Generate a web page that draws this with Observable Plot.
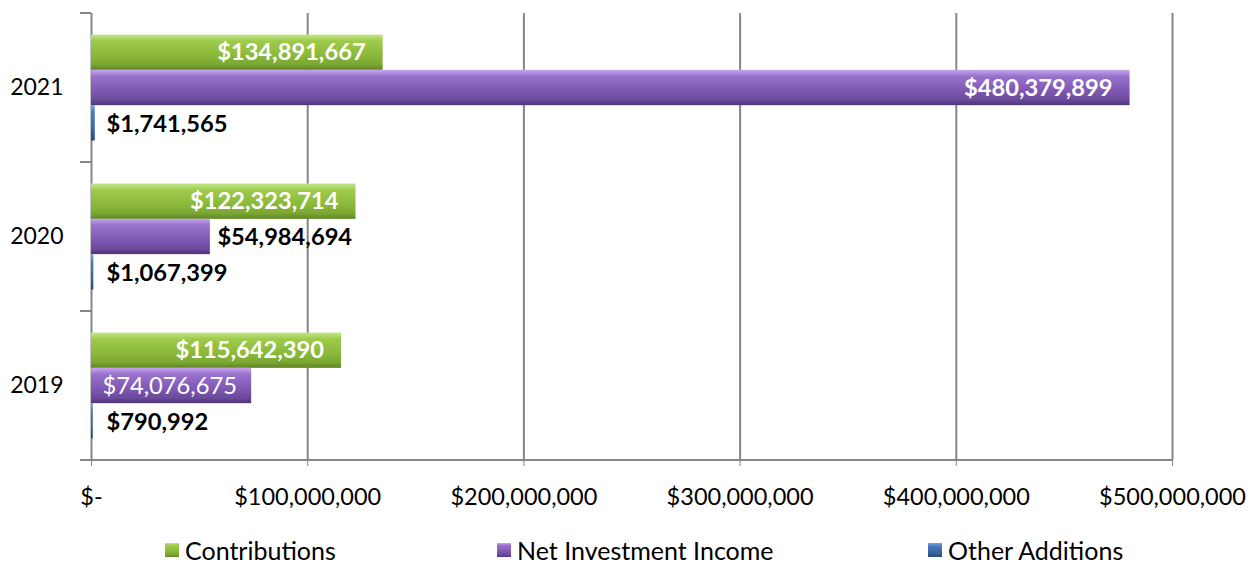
<!DOCTYPE html>
<html><head><meta charset="utf-8">
<script src="https://cdn.jsdelivr.net/npm/d3@7"></script>
<script src="https://cdn.jsdelivr.net/npm/@observablehq/plot@0.6"></script>
<style>
body{margin:0;background:#fff;font-family:Lato,"Open Sans",sans-serif;overflow:hidden;}
#legend{position:relative;height:35px;font-size:25px;color:#000;}
.item{position:absolute;top:5px;height:30px;line-height:30px;display:flex;align-items:center;white-space:nowrap;}
</style></head>
<body>
<svg width="0" height="0" style="position:absolute">
  <defs>
    <linearGradient id="gGreen" x1="0" y1="0" x2="0" y2="1">
      <stop offset="0" stop-color="#c4e68a"/>
      <stop offset="0.18" stop-color="#9fcb4c"/>
      <stop offset="0.6" stop-color="#8ab83a"/>
      <stop offset="0.85" stop-color="#7aa632"/>
      <stop offset="1" stop-color="#5e8424"/>
    </linearGradient>
    <linearGradient id="gPurple" x1="0" y1="0" x2="0" y2="1">
      <stop offset="0" stop-color="#c7a6ef"/>
      <stop offset="0.18" stop-color="#9a72cc"/>
      <stop offset="0.6" stop-color="#7e57b2"/>
      <stop offset="0.85" stop-color="#6c4a9c"/>
      <stop offset="1" stop-color="#4f3476"/>
    </linearGradient>
    <linearGradient id="gBlue" x1="0" y1="0" x2="0" y2="1">
      <stop offset="0" stop-color="#7aa8df"/>
      <stop offset="0.2" stop-color="#4a7cc0"/>
      <stop offset="0.7" stop-color="#35649f"/>
      <stop offset="1" stop-color="#234a7c"/>
    </linearGradient>
  </defs>
</svg>
<div id="chart"></div>
<div id="legend"></div>
<script>
const years = ["2021", "2020", "2019"];
const seriesNames = ["Contributions", "Net Investment Income", "Other Additions"];
const contributions = [134891667, 122323714, 115642390];
const netInvestmentIncome = [480379899, 54984694, 74076675];
const otherAdditions = [1741565, 1067399, 790992];
const xTicks = [0, 100000000, 200000000, 300000000, 400000000, 500000000];

const seriesValues = [contributions, netInvestmentIncome, otherAdditions];
const fills = ["url(#gGreen)", "url(#gPurple)", "url(#gBlue)"];
const rows = [];
years.forEach((yr, i) => seriesNames.forEach((s, j) => rows.push({year: yr, series: s, value: seriesValues[j][i]})));

const money = v => "$" + d3.format(",")(v);

// label placement, the way the original chart placed its data labels
const isOther = d => d.series === "Other Additions";
const insideEnd = rows.filter(d => !isOther(d) && d.value >= 100000000);
const outsideEnd = rows.filter(d => !isOther(d) && d.value < 60000000);
const insideBase = rows.filter(d => !isOther(d) && d.value >= 60000000 && d.value < 100000000);
const otherLabels = rows.filter(isOther);

const labelFont = 23.7;
const chart = Plot.plot({
  width: 1256, height: 530,
  marginLeft: 91, marginRight: 84, marginTop: 12, marginBottom: 70,
  style: {fontFamily: "Lato, 'Open Sans', sans-serif", fontSize: "23px", color: "#000", background: "transparent", overflow: "visible"},
  x: {domain: [0, 500000000]},
  fy: {domain: years, padding: 0, label: null},
  y: {domain: seriesNames, paddingInner: 0, paddingOuter: 0.61, round: false, axis: null},
  marks: [
    Plot.ruleX(xTicks, {stroke: "#868686", strokeWidth: 2}),
    ...seriesNames.map((s, j) => Plot.barX(rows.filter(d => d.series === s), {
      fy: "year", y: "series", x: "value", fill: fills[j]
    })),
    Plot.text(insideEnd, {fy: "year", y: "series", x: "value", text: d => money(d.value), textAnchor: "end", dx: -17.5, fill: "white", fontWeight: "bold", fontSize: labelFont}),
    Plot.text(outsideEnd, {fy: "year", y: "series", x: "value", text: d => money(d.value), textAnchor: "start", dx: 7, fill: "#000", fontWeight: "bold", fontSize: labelFont}),
    Plot.text(insideBase, {fy: "year", y: "series", x: 0, text: d => money(d.value), textAnchor: "start", dx: 11, fill: "white", fontWeight: "normal", fontSize: labelFont}),
    Plot.text(otherLabels, {fy: "year", y: "series", x: 0, text: d => money(d.value), textAnchor: "start", dx: 15, dy: 1, fill: "#000", fontWeight: "bold", fontSize: labelFont}),
    Plot.axisX(xTicks, {anchor: "bottom", tickSize: 6, tickPadding: 22, stroke: "#868686", fill: "#000", fontSize: 23.5,
      tickFormat: d => d === 0 ? "$-" : money(d), label: null}),
    Plot.axisFy({anchor: "left", tickSize: 0, tickPadding: 28, fontSize: 23, fill: "#000", label: null})
  ]
});
document.getElementById("chart").append(chart);

// axis line and category boundary ticks, placed with the chart's own scales
const svg = d3.select(chart);
const fy = chart.scale("fy"), x = chart.scale("x");
const yBottom = fy.apply(years[years.length - 1]) + fy.bandwidth;
const g = svg.append("g").attr("stroke", "#868686").attr("stroke-width", 2);
g.append("line").attr("x1", x.apply(0) - 11).attr("x2", x.apply(500000000)).attr("y1", yBottom).attr("y2", yBottom);
years.forEach(yr => {
  const y0 = fy.apply(yr);
  g.append("line").attr("x1", x.apply(0) - 11).attr("x2", x.apply(0)).attr("y1", y0).attr("y2", y0);
});

// legend
const legendPos = [165, 497, 928];
const leg = document.getElementById("legend");
seriesNames.forEach((s, j) => {
  const it = document.createElement("div");
  it.className = "item";
  it.style.left = legendPos[j] + "px";
  const sw = document.createElementNS("http://www.w3.org/2000/svg", "svg");
  sw.setAttribute("width", 14); sw.setAttribute("height", 14); sw.style.marginRight = "6px";
  const r = document.createElementNS("http://www.w3.org/2000/svg", "rect");
  r.setAttribute("width", 14); r.setAttribute("height", 14); r.setAttribute("fill", fills[j]);
  sw.append(r);
  it.append(sw);
  it.append(document.createTextNode(s));
  leg.append(it);
});
</script>
</body></html>
